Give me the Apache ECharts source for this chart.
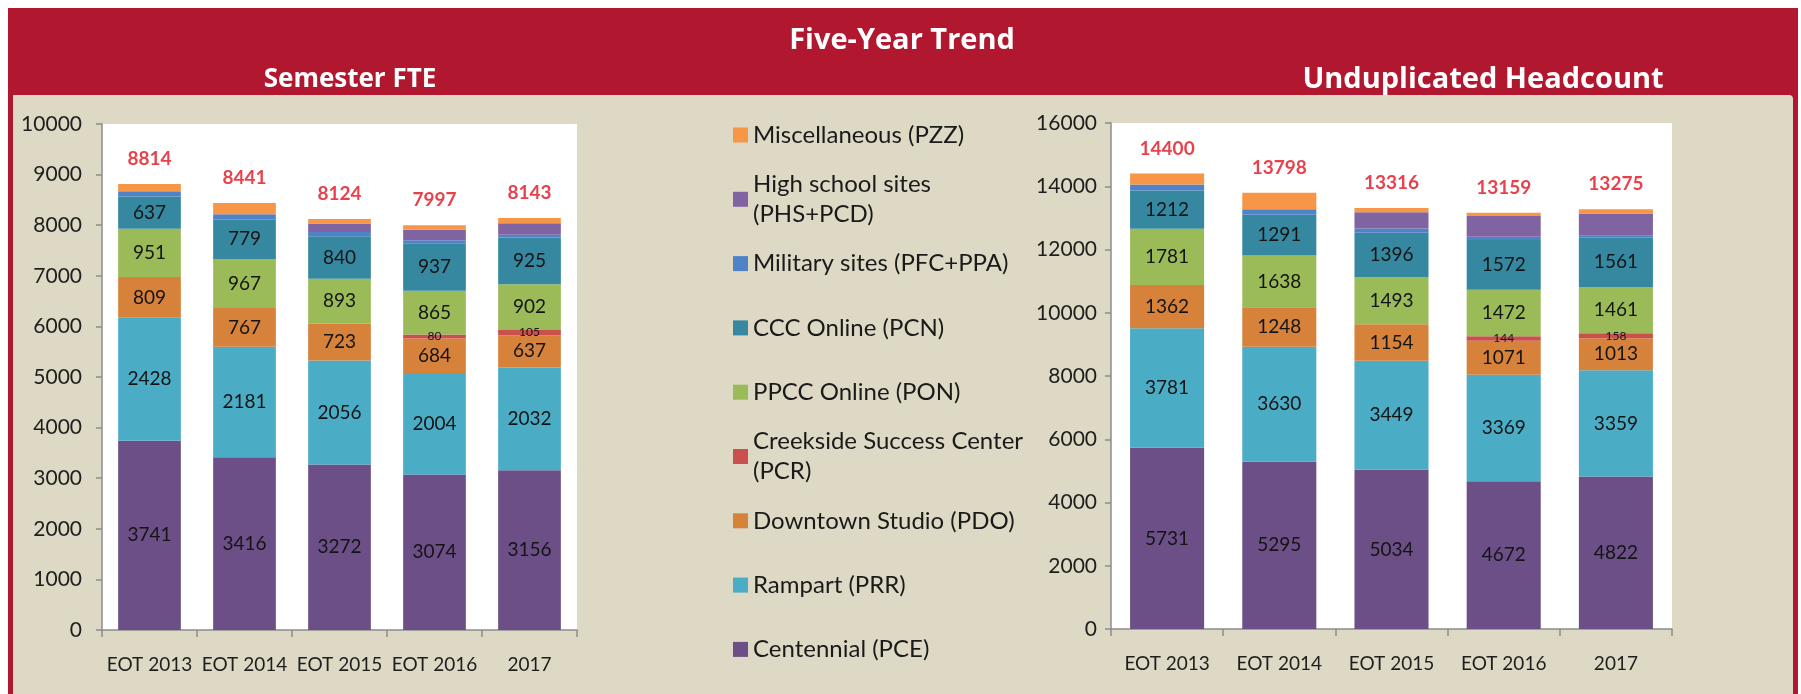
<!DOCTYPE html>
<html lang="en">
<head>
<meta charset="utf-8" />
<title>Five-Year Trend</title>
<script src="https://cdn.jsdelivr.net/npm/echarts@6/dist/echarts.min.js"></script>
<style>
    body { margin: 0; background: #fff; }
    #frame { position: absolute; left: 8px; top: 8px; width: 1790px; height: 686px; background: #B1182F; }
    #panel { position: absolute; left: 13px; top: 95px; width: 1780px; height: 599px; background: #DDD9C4; border-top-right-radius: 4px; }
    #main { position: absolute; left: 0; top: 0; width: 1801px; height: 694px; }
</style>
</head>
<body>
<div id="frame"></div>
<div id="panel"></div>
<div id="main"></div>

<script>
    // categories
    var years = ['EOT 2013', 'EOT 2014', 'EOT 2015', 'EOT 2016', '2017'];

    // Semester FTE (bottom of stack first)
    var fteCentennial = [3741, 3416, 3272, 3074, 3156];
    var fteRampart    = [2428, 2181, 2056, 2004, 2032];
    var fteDowntown   = [809, 767, 723, 684, 637];
    var fteCreekside  = [0, 0, 0, 80, 105];
    var ftePpccOnline = [951, 967, 893, 865, 902];
    var fteCccOnline  = [637, 779, 840, 937, 925];
    var fteMilitary   = [106, 106, 80, 58, 56];
    var fteHighSchool = [0, 0, 170, 210, 225];
    var fteMisc       = [142, 225, 90, 85, 105];
    var fteTotals     = [8814, 8441, 8124, 7997, 8143];

    // Unduplicated Headcount
    var hcCentennial = [5731, 5295, 5034, 4672, 4822];
    var hcRampart    = [3781, 3630, 3449, 3369, 3359];
    var hcDowntown   = [1362, 1248, 1154, 1071, 1013];
    var hcCreekside  = [0, 0, 0, 144, 158];
    var hcPpccOnline = [1781, 1638, 1493, 1472, 1461];
    var hcCccOnline  = [1212, 1291, 1396, 1572, 1561];
    var hcMilitary   = [192, 169, 135, 104, 61];
    var hcHighSchool = [0, 0, 515, 655, 705];
    var hcMisc       = [341, 527, 140, 100, 135];
    var hcTotals     = [14400, 13798, 13316, 13159, 13275];

    var fteTicks = [0, 10000, 1000];
    var hcTicks  = [0, 16000, 2000];

    var names = ['Centennial (PCE)', 'Rampart (PRR)', 'Downtown Studio (PDO)', 'Creekside Success Center (PCR)',
        'PPCC Online (PON)', 'CCC Online (PCN)', 'Military sites (PFC+PPA)', 'High school sites (PHS+PCD)',
        'Miscellaneous (PZZ)'];
    var colors = ['#6B4F86', '#4BACC6', '#D7823B', '#C9504D', '#9BBB59', '#3588A0', '#4F83C8', '#8064A2', '#F79646'];

    // legend labels that wrap on two lines
    var wrapped = {
        'High school sites (PHS+PCD)': 'High school sites\n(PHS+PCD)',
        'Creekside Success Center (PCR)': 'Creekside Success Center\n(PCR)'
    };

    var font = 'Lato';

    var myChart = echarts.init(document.getElementById('main'));

    function stackSeries(idx, list, totals) {
        var out = [];
        for (var i = 0; i < list.length; i++) {
            var small = (i === 3);
            out.push({
                name: names[i],
                type: 'bar',
                stack: 'g' + idx,
                xAxisIndex: idx,
                yAxisIndex: idx,
                barWidth: '66%',
                itemStyle: { color: colors[i] },
                label: {
                    show: i < 6,
                    position: 'inside',
                    color: '#141414',
                    fontFamily: font,
                    fontSize: small ? 12 : 19,
                    formatter: function (p) { return p.value ? p.value : ''; }
                },
                data: list[i]
            });
        }
        // totals above each bar
        out.push({
            name: 'total' + idx,
            type: 'scatter',
            xAxisIndex: idx,
            yAxisIndex: idx,
            symbolSize: 1,
            itemStyle: { color: 'rgba(0,0,0,0)' },
            silent: true,
            label: {
                show: true,
                position: 'top',
                distance: 15,
                color: '#E3101E',
                fontFamily: font,
                fontWeight: 'bold',
                fontSize: 19
            },
            data: totals
        });
        return out;
    }

    function xAxis(idx) {
        return {
            type: 'category',
            gridIndex: idx,
            data: years,
            axisLine: { lineStyle: { color: '#8C8C8C', width: 1.5 } },
            axisTick: { show: true, length: 7, lineStyle: { color: '#8C8C8C', width: 1.5 } },
            axisLabel: { interval: 0, color: '#1E1E1E', fontFamily: font, fontSize: 19, margin: 25 }
        };
    }

    function yAxis(idx, t, gap) {
        return {
            type: 'value',
            gridIndex: idx,
            min: t[0],
            max: t[1],
            interval: t[2],
            splitLine: { show: false },
            axisLine: { show: true, lineStyle: { color: '#8C8C8C', width: 1.5 } },
            axisTick: { show: true, length: 6, lineStyle: { color: '#8C8C8C', width: 1.5 } },
            axisLabel: {
                color: '#1E1E1E', fontFamily: font, fontSize: 21, margin: gap,
                formatter: function (v) { return String(v); }
            }
        };
    }

    var legendData = names.slice().reverse().map(function (n) {
        return {
            name: n,
            textStyle: { padding: wrapped[n] ? [30, 0, 0, 0] : [30, 0, 30, 0] }
        };
    });

    var option = {
        animation: false,
        title: [
            { text: 'Five-Year Trend', left: 902, top: 41, textAlign: 'center', textVerticalAlign: 'middle', padding: 0,
              textStyle: { color: '#fff', fontFamily: 'Open Sans', fontWeight: 'bold', fontSize: 29 } },
            { text: 'Semester FTE', left: 350, top: 80, textAlign: 'center', textVerticalAlign: 'middle', padding: 0,
              textStyle: { color: '#fff', fontFamily: 'Open Sans', fontWeight: 'bold', fontSize: 26 } },
            { text: 'Unduplicated Headcount', left: 1483, top: 80, textAlign: 'center', textVerticalAlign: 'middle', padding: 0,
              textStyle: { color: '#fff', fontFamily: 'Open Sans', fontWeight: 'bold', fontSize: 29 } }
        ],
        legend: {
            orient: 'vertical',
            left: 733,
            top: 90,
            height: 640,
            padding: 0,
            itemWidth: 15,
            itemHeight: 15,
            itemGap: -25.7,
            icon: 'rect',
            data: legendData,
            formatter: function (name) { return wrapped[name] || name; },
            textStyle: { color: '#1a1a1a', fontFamily: font, fontSize: 24, lineHeight: 30 }
        },
        grid: [
            { left: 102, top: 124, width: 475, height: 506, show: true, backgroundColor: '#fff', borderWidth: 0 },
            { left: 1111, top: 123, width: 561, height: 506, show: true, backgroundColor: '#fff', borderWidth: 0 }
        ],
        xAxis: [xAxis(0), xAxis(1)],
        yAxis: [yAxis(0, fteTicks, 20), yAxis(1, hcTicks, 14)],
        series: stackSeries(0, [fteCentennial, fteRampart, fteDowntown, fteCreekside, ftePpccOnline,
            fteCccOnline, fteMilitary, fteHighSchool, fteMisc], fteTotals)
            .concat(stackSeries(1, [hcCentennial, hcRampart, hcDowntown, hcCreekside, hcPpccOnline,
            hcCccOnline, hcMilitary, hcHighSchool, hcMisc], hcTotals))
    };

    myChart.setOption(option);
</script>
</body>
</html>
